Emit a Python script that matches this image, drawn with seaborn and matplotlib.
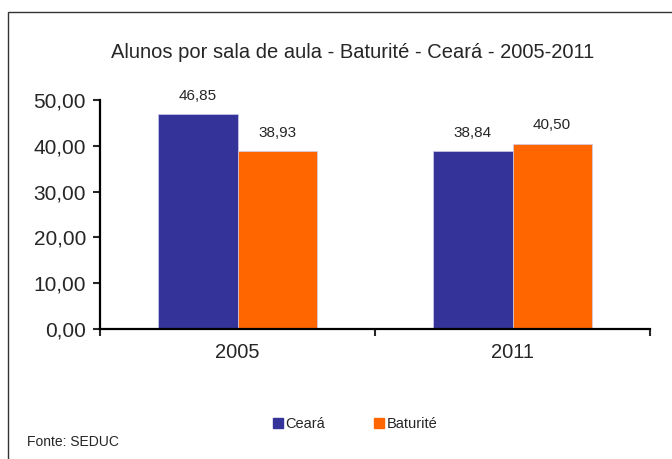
import matplotlib
matplotlib.use('Agg')
import matplotlib.pyplot as plt
from matplotlib.patches import Rectangle
import pandas as pd
import seaborn as sns

# dados
anos = ['2005', '2011']
ceara = [46.85, 38.84]
baturite = [38.93, 40.50]
locais = ['Ceará', 'Baturité']
cores = ['#333399', '#FF6600']
yticks = [0, 10, 20, 30, 40, 50]

df = pd.DataFrame({
    'ano': anos * 2,
    'valor': ceara + baturite,
    'local': [locais[0]] * len(anos) + [locais[1]] * len(anos),
})

sns.set_style('white')
plt.rcParams['font.family'] = ['Liberation Sans', 'DejaVu Sans']

fig = plt.figure(figsize=(6.72, 4.59), dpi=100)
ax = fig.add_axes([100 / 672, 1 - 329 / 459, 550 / 672, 229 / 459])

sns.barplot(data=df, x='ano', y='valor', hue='local', palette=cores,
            width=0.575, saturation=1, ax=ax, legend=False,
            edgecolor='#ccccee', linewidth=0.5)

for cont in ax.containers:
    ax.bar_label(cont, labels=[f'{v:.2f}'.replace('.', ',') for v in cont.datavalues],
                 padding=8, fontsize=11)

ax.set_xlim(-0.5, 1.5)
ax.set_ylim(0, 50)
ax.set_yticks(yticks)
ax.set_yticklabels([f'{v:.2f}'.replace('.', ',') for v in yticks], fontsize=15)
ax.set_xticks([-0.5, 0.5, 1.5], minor=True)
ax.tick_params(axis='x', which='major', length=0, labelsize=14.5, pad=10)
ax.tick_params(axis='x', which='minor', length=5, width=1.5, direction='out', bottom=True)
ax.tick_params(axis='y', length=5, width=1.5, direction='out', left=True, pad=5)
ax.set_xlabel('')
ax.set_ylabel('')
for s in ['top', 'right']:
    ax.spines[s].set_visible(False)
for s in ['left', 'bottom']:
    ax.spines[s].set_linewidth(1.6)
    ax.spines[s].set_color('black')

fig.text(353 / 672, 1 - 53 / 459, 'Alunos por sala de aula - Baturité - Ceará - 2005-2011',
         ha='center', va='center', fontsize=14.5)

handles = [Rectangle((0, 0), 1, 1, color=c) for c in cores]
fig.legend(handles, locais, loc='center', bbox_to_anchor=(355 / 672, 1 - 424 / 459),
           ncol=2, frameon=False, fontsize=10.5, handlelength=0.7, handleheight=0.7,
           handletextpad=0.2, columnspacing=3.3)

fig.text(27 / 672, 1 - 442 / 459, 'Fonte: SEDUC', ha='left', va='center', fontsize=10)

fig.patches.append(Rectangle((8 / 672, -0.05), 1.0, 1 - 12 / 459 + 0.05, fill=False,
                             edgecolor='#333333', linewidth=1, transform=fig.transFigure))

fig.savefig('out.png', dpi=100)
